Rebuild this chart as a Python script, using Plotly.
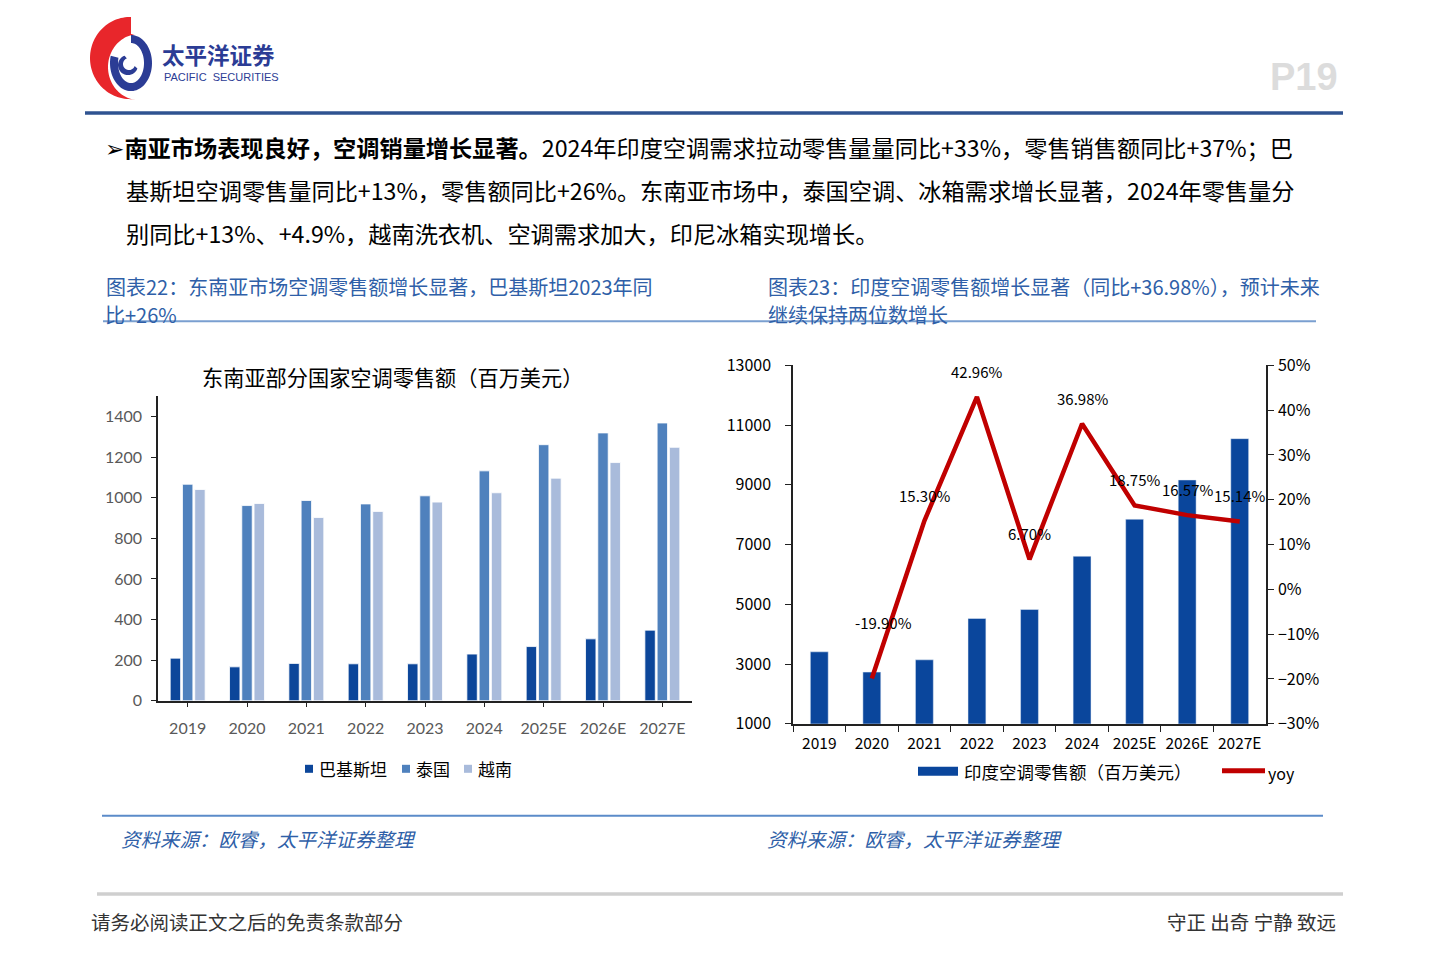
import numpy as np
import plotly.graph_objects as go

W, H = 1440, 965
# the photographed page shows the figure squeezed vertically into rows ~13..953;
# positions below are taken from the reference picture and mapped back through that.
OY, SY = 13.0, 940.0 / 965.0


def X(p):
    return p / W


def Y(p):
    return 1 - ((p - OY) / SY) / H


# ---------------- data ----------------
years = ["2019", "2020", "2021", "2022", "2023", "2024", "2025E", "2026E", "2027E"]
sea_names = ["巴基斯坦", "泰国", "越南"]
pakistan = [210, 167, 184, 182, 182, 230, 267, 305, 348]
thailand = [1067, 962, 987, 970, 1010, 1133, 1262, 1320, 1369]
vietnam = [1041, 972, 903, 933, 979, 1025, 1097, 1174, 1249]
sea_colors = ["#0C469A", "#4F81BD", "#A9BBDB"]

india_name = "印度空调零售额（百万美元）"
yoy_name = "yoy"
india_sales = [3409, 2729, 3141, 4524, 4825, 6609, 7847, 9163, 10546]
india_yoy = [None, -19.90, 15.30, 42.96, 6.70, 36.98, 18.75, 16.57, 15.14]

left_ticks = [0, 200, 400, 600, 800, 1000, 1200, 1400]
right_ticks = [1000, 3000, 5000, 7000, 9000, 11000, 13000]
yoy_ticks = [-0.3, -0.2, -0.1, 0.0, 0.1, 0.2, 0.3, 0.4, 0.5]

CJK = "Noto Sans CJK SC, DejaVu Sans"
BLUE_T = "#2F5FA8"

fig = go.Figure()

# ---------------- left chart ----------------
for name, vals, col in zip(sea_names, [pakistan, thailand, vietnam], sea_colors):
    fig.add_trace(go.Bar(x=years, y=vals, name=name, marker=dict(color=col, line=dict(color="white", width=0.8)),
                         xaxis="x", yaxis="y", showlegend=False))

# ---------------- right chart ----------------
fig.add_trace(go.Bar(x=years, y=india_sales, name=india_name, width=0.34,
                     marker=dict(color="#0A469C"), xaxis="x2", yaxis="y2", showlegend=False))
fig.add_trace(go.Scatter(x=years, y=[None if v is None else v / 100 for v in india_yoy], name=yoy_name,
                         mode="lines", line=dict(color="#C00000", width=4.5), xaxis="x2", yaxis="y3",
                         showlegend=False, connectgaps=False))

annotations = []
for i, v in enumerate(india_yoy):
    if v is None:
        continue
    first = i == 1
    # category index used as x (numeric-looking category names would be read as numbers)
    annotations.append(dict(x=i, y=v / 100, xref="x2", yref="y3", text=f"{v:.2f}%",
                            showarrow=False, yshift=(55 if first else 25) / SY, xshift=12 if first else 0,
                            font=dict(family=CJK, size=15, color="black")))

shapes = []


def txt(x, y, s, size, color="black", anchor="left", family=CJK, yanchor="middle"):
    annotations.append(dict(x=X(x), y=Y(y), xref="paper", yref="paper", text=s, showarrow=False,
                            xanchor=anchor, yanchor=yanchor, align="left",
                            font=dict(family=family, size=size, color=color)))


def hline(x0, x1, y, color, width):
    shapes.append(dict(type="line", xref="paper", yref="paper", x0=X(x0), x1=X(x1), y0=Y(y), y1=Y(y),
                       line=dict(color=color, width=width)))


def poly(pts, color):
    d = "M " + " L ".join(f"{X(a):.5f},{Y(b):.5f}" for a, b in pts) + " Z"
    shapes.append(dict(type="path", xref="paper", yref="paper", path=d, fillcolor=color,
                       line=dict(width=0), layer="above"))


# ---- logo ----
th = np.radians(np.linspace(272, 92, 60))
outer = [(130 + 40 * np.cos(t), 58 + 41 * np.sin(t)) for t in th]
th2 = np.radians(np.linspace(95, 262, 60))
inner = [(139 + 31 * np.cos(t), 67 + 33 * np.sin(t)) for t in th2]
poly(outer + inner + [(131, 34), (131, 17)], "#E8262B")

tb = np.radians(np.linspace(-90, 195, 70))
ring_o = [(131 + 21 * np.cos(t), 63 + 28 * np.sin(t)) for t in tb]
ring_i = [(131 + 13 * np.cos(t), 63 + 20 * np.sin(t)) for t in tb[::-1]]
poly(ring_o + ring_i, "#2B3C95")
ts = np.radians(np.linspace(20, 250, 50))
sw_o = [(128 + 10 * np.cos(t), 65 + 10 * np.sin(t)) for t in ts]
sw_i = [(129 + 6 * np.cos(t), 64 + 6 * np.sin(t)) for t in ts[::-1]]
poly(sw_o + sw_i, "#2B3C95")

txt(160, 54, "<b>太平洋证券</b>", 22.5, "#2B3C95")
txt(162, 77, "PACIFIC  SECURITIES", 11, "#2B3C95", family="Liberation Sans")
txt(1340, 77, "<b>P19</b>", 38, "#DCDCDC", anchor="right", family="Liberation Sans")

hline(85, 1343, 113, "#2F5391", 3.5)

# ---- paragraph ----
txt(103, 147, "➢<b>南亚市场表现良好，空调销量增长显著。</b>2024年印度空调需求拉动零售量量同比+33%，零售销售额同比+37%；巴", 23.2)
txt(124, 190, "基斯坦空调零售量同比+13%，零售额同比+26%。东南亚市场中，泰国空调、冰箱需求增长显著，2024年零售量分", 23.2)
txt(124, 233, "别同比+13%、+4.9%，越南洗衣机、空调需求加大，印尼冰箱实现增长。", 23.2)

# ---- chart titles ----
txt(104, 286, "图表22：东南亚市场空调零售额增长显著，巴基斯坦2023年同", 20, BLUE_T)
txt(103, 314, "比+26%", 20, BLUE_T)
txt(766, 286, "图表23：印度空调零售额增长显著（同比+36.98%），预计未来", 20, BLUE_T)
txt(766, 314, "继续保持两位数增长", 20, BLUE_T)
hline(103, 1316, 321, "#7A9FD0", 2)

txt(393, 376, "东南亚部分国家空调零售额（百万美元）", 21.2, "black", anchor="center")

# ---- left legend ----
leg_sq = [305, 402, 464]
for name, col, xs in zip(sea_names, sea_colors, leg_sq):
    shapes.append(dict(type="rect", xref="paper", yref="paper", x0=X(xs), x1=X(xs + 8), y0=Y(772), y1=Y(764),
                       fillcolor=col, line=dict(width=0)))
    txt(xs + 12, 768, name, 17, "black")

# ---- right legend ----
shapes.append(dict(type="rect", xref="paper", yref="paper", x0=X(918), x1=X(958), y0=Y(775), y1=Y(766),
                   fillcolor="#0A469C", line=dict(width=0)))
txt(962, 771, india_name, 17.5, "black")
hline(1222, 1265, 770, "#C00000", 5)
txt(1266, 772, yoy_name, 16, "black")

# ---- bottom ----
hline(102, 1323, 815, "#5B8BC9", 2)
txt(119, 838, "<i>资料来源：欧睿，太平洋证券整理</i>", 19.5, BLUE_T)
txt(765, 838, "<i>资料来源：欧睿，太平洋证券整理</i>", 19.5, BLUE_T)
hline(97, 1343, 893, "#CFCFCF", 3.5)
txt(89, 921, "请务必阅读正文之后的免责条款部分", 19.5, "#333333")
txt(1338, 921, "守正 出奇 宁静 致远", 19.5, "#333333", anchor="right")

axis_common = dict(showgrid=False, zeroline=False, showline=True, ticks="outside", mirror=False)

fig.update_layout(
    width=W, height=H, margin=dict(l=0, r=0, t=0, b=0),
    paper_bgcolor="white", plot_bgcolor="white",
    barmode="group", bargap=0.38, bargroupgap=0.15,
    showlegend=False,
    xaxis=dict(domain=[X(158), X(692)], anchor="y", type="category", range=[-0.5, 8.5], tickangle=0,
               linecolor="#222", linewidth=1.5, tickcolor="#222", ticklen=5, ticklabelstandoff=7,
               tickfont=dict(family="Lato, Liberation Sans", size=16, color="#595959"), **axis_common),
    yaxis=dict(domain=[Y(700), Y(396)], anchor="x", range=[0, 1500], tickvals=left_ticks,
               linecolor="#222", linewidth=1.5, tickcolor="#222", ticklen=5, ticklabelstandoff=6,
               tickfont=dict(family="Lato, Liberation Sans", size=16, color="#595959"), **axis_common),
    xaxis2=dict(domain=[X(793), X(1266)], anchor="y2", type="category", range=[-0.5, 8.5], tickangle=0,
                tickson="boundaries", linecolor="#222", linewidth=1.5, tickcolor="#222", ticklen=6,
                ticklabelstandoff=5,
                tickfont=dict(family=CJK, size=15.5, color="black"), **axis_common),
    yaxis2=dict(domain=[Y(723), Y(365)], anchor="x2", range=[1000, 13000], tickvals=right_ticks,
                tickformat="d",
                linecolor="#222", linewidth=1.5, tickcolor="#222", ticklen=6, ticklabelstandoff=11,
                tickfont=dict(family=CJK, size=16, color="black"), **axis_common),
    yaxis3=dict(overlaying="y2", side="right", anchor="x2", range=[-0.3, 0.5], tickvals=yoy_ticks,
                tickformat=".0%", linecolor="#222", linewidth=1.5, tickcolor="#222", ticklen=6,
                ticklabelstandoff=1,
                tickfont=dict(family=CJK, size=16, color="black"), **axis_common),
    annotations=annotations,
    shapes=shapes,
)

fig.write_html(
    "out.html",
    config={"displayModeBar": False},
    post_script="document.body.style.margin='0';document.body.style.overflow='hidden';"
                "document.documentElement.style.overflow='hidden';",
)
